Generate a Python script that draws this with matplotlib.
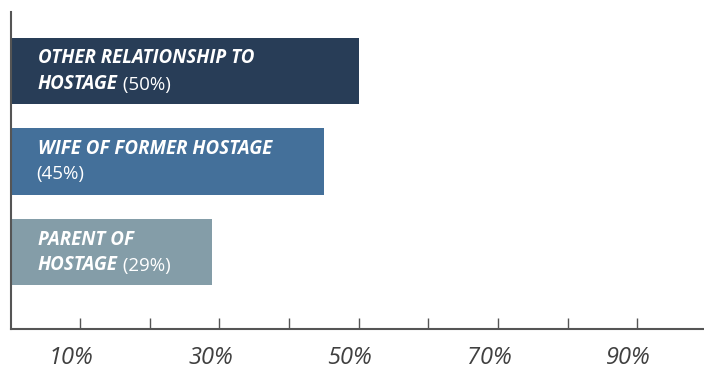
import matplotlib.pyplot as plt
import matplotlib.transforms as mtransforms

# Share of respondents by relationship to the hostage
labels = ["PARENT OF\nHOSTAGE", "WIFE OF FORMER HOSTAGE", "OTHER RELATIONSHIP TO\nHOSTAGE"]
values = [29, 45, 50]
colors = ["#849DA8", "#44709A", "#283D57"]
ticks = [10, 20, 30, 40, 50, 60, 70, 80, 90]
tick_labels = ["10%", "", "30%", "", "50%", "", "70%", "", "90%"]

plt.rcParams['font.family'] = ['Open Sans', 'DejaVu Sans']

fig = plt.figure(figsize=(7.04, 3.69), dpi=100)
ax = fig.add_axes([10.5 / 704, 40 / 369, 693.5 / 704, 317 / 369])

y = range(len(values))
ax.barh(y, values, height=0.73, color=colors)

fs = 13.5
bold = dict(color='white', fontsize=fs, fontweight='bold', style='italic',
            va='baseline', ha='left', textcoords='offset pixels')
for i, (lab, v) in enumerate(zip(labels, values)):
    lines = lab.split("\n")
    pct = f"({v}%)"
    ax.annotate(lines[0], xy=(0, i), xytext=(27.5, 7.5), **bold)
    if len(lines) == 2:
        bot = ax.annotate(lines[1], xy=(0, i), xytext=(27.5, -18), **bold)
        # regular-weight percentage right after the bold word, same baseline
        ax.annotate(" " + pct, xy=(1, 0), xycoords=bot, color='white', fontsize=fs,
                    va='bottom', ha='left')
    else:
        ax.annotate(pct, xy=(0, i), xytext=(25.5, -18), textcoords='offset pixels',
                    color='white', fontsize=fs, va='baseline', ha='left')

ax.set_xlim(0, 99.6)
ax.set_ylim(-0.85, 2.65)
ax.set_yticks([])
ax.set_xticks(ticks)
ax.set_xticklabels(tick_labels, fontsize=17, style='italic', color='#404040')
ax.tick_params(axis='x', direction='in', length=8, width=1, color='#555555', pad=12)

# nudge tick labels slightly left
shift = mtransforms.ScaledTranslation(-9 / 100, 0, fig.dpi_scale_trans)
for t in ax.get_xticklabels():
    t.set_transform(t.get_transform() + shift)

for side in ['top', 'right']:
    ax.spines[side].set_visible(False)
for side in ['left', 'bottom']:
    ax.spines[side].set_color('#555555')
    ax.spines[side].set_linewidth(1.5)

fig.savefig("out.png", dpi=100)
